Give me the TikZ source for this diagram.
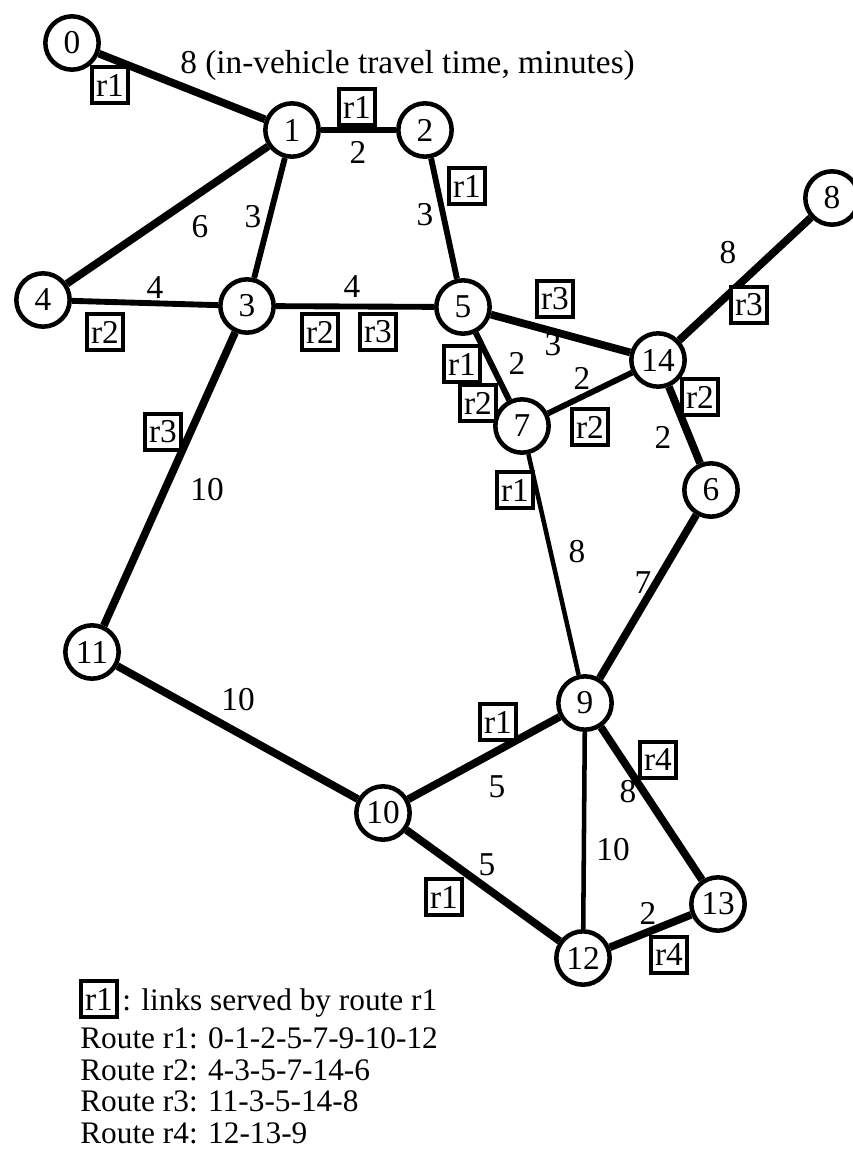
\documentclass[tikz,border=0pt]{standalone}
\usepackage{fontspec}
\setmainfont{Liberation Serif}
\begin{document}
\begin{tikzpicture}[x=0.75pt,y=-0.75pt,
  every node/.style={font=\fontsize{25}{29}\selectfont},
  stop/.style={circle,draw,line width=3.4pt,minimum size=40pt,inner sep=0pt,fill=white},
  route/.style={draw,line width=3.4pt,fill=white,minimum width=27pt,minimum height=27pt,inner sep=0.5pt},
  wt/.style={inner sep=0pt},
  keyline/.style={inner sep=0pt,anchor=base west,font=\fontsize{23.5}{26}\selectfont},
  heavy/.style={line width=5.8pt},
  medium/.style={line width=4.4pt},
  light/.style={line width=3.4pt}]
\useasboundingbox (0,0) rectangle (853,1150);

% stops
\node[stop] (n0) at (72,43) {0};
\node[stop] (n1) at (292,130) {1};
\node[stop] (n2) at (425,130) {2};
\node[stop] (n3) at (247,306) {3};
\node[stop] (n4) at (43,300) {4};
\node[stop] (n5) at (463,307) {5};
\node[stop] (n14) at (658,360) {14};
\node[stop] (n7) at (522,426) {7};
\node[stop] (n6) at (711,490) {6};
\node[stop] (n8) at (832,198) {8};
\node[stop] (n11) at (92,652) {11};
\node[stop] (n9) at (585,703) {9};
\node[stop] (n10) at (383,813) {10};
\node[stop] (n13) at (718,904) {13};
\node[stop] (n12) at (583,958) {12};

% links
\draw[heavy] (n0) -- (n1);
\draw[heavy] (n1) -- (n4);
\draw[medium] (n1) -- (n2);
\draw[medium] (n1) -- (n3);
\draw[medium] (n2) -- (n5);
\draw[medium] (n4) -- (n3);
\draw[medium] (n3) -- (n5);
\draw[heavy] (n3) -- (n11);
\draw[heavy] (n5) -- (n14);
\draw[medium] (n5) -- (n7);
\draw[medium] (n7) -- (n14);
\draw[heavy] (n14) -- (n8);
\draw[heavy] (n14) -- (n6);
\draw[light] (n7) -- (n9);
\draw[heavy] (n6) -- (n9);
\draw[heavy] (n11) -- (n10);
\draw[heavy] (n10) -- (n9);
\draw[heavy] (n10) -- (n12);
\draw[light] (n9) -- (n12);
\draw[heavy] (n9) -- (n13);
\draw[heavy] (n12) -- (n13);

% travel times
\node[wt,anchor=base west] (title) at (180,73) {8 (in-vehicle travel time, minutes)};
\node[wt] (w12) at (358,152) {2};
\node[wt] (w13) at (253,217) {3};
\node[wt] (w14) at (200,227) {6};
\node[wt] (w25) at (425,215) {3};
\node[wt] (w43) at (155,288) {4};
\node[wt] (w35) at (352,287) {4};
\node[wt] (w514) at (553,345) {3};
\node[wt] (w57) at (517,363) {2};
\node[wt] (w714) at (582,378) {2};
\node[wt] (w146) at (663,437) {2};
\node[wt] (w148) at (728,253) {8};
\node[wt] (w311) at (207,490) {10};
\node[wt] (w79) at (577,552) {8};
\node[wt] (w69) at (643,583) {7};
\node[wt] (w1110) at (238,700) {10};
\node[wt] (w109) at (497,787) {5};
\node[wt] (w913) at (628,792) {8};
\node[wt] (w912) at (613,850) {10};
\node[wt] (w1012) at (487,865) {5};
\node[wt] (w1213) at (648,913) {2};

% route tags
\node[route] (t01) at (110,85) {r1};
\node[route] (t12) at (357,107) {r1};
\node[route] (t25) at (467,186) {r1};
\node[route] (t43) at (105,332) {r2};
\node[route] (t35a) at (320,332) {r2};
\node[route] (t35b) at (378,332) {r3};
\node[route] (t514) at (555,299) {r3};
\node[route] (t148) at (749,305) {r3};
\node[route] (t57a) at (462,364) {r1};
\node[route] (t57b) at (478,403) {r2};
\node[route] (t714) at (590,427) {r2};
\node[route] (t146) at (700,397) {r2};
\node[route] (t79) at (515,490) {r1};
\node[route] (t311) at (163,432) {r3};
\node[route] (t109) at (498,722) {r1};
\node[route] (t913) at (658,760) {r4};
\node[route] (t1012) at (444,897) {r1};
\node[route] (t1213) at (669,955) {r4};

% legend
\node[route] (key) at (99,999) {r1};
\node[keyline] (keytext) at (122,1010) {: links served by route r1};
\node[keyline] (rt1) at (80,1048) {Route r1: 0-1-2-5-7-9-10-12};
\node[keyline] (rt2) at (80,1080) {Route r2: 4-3-5-7-14-6};
\node[keyline] (rt3) at (80,1111) {Route r3: 11-3-5-14-8};
\node[keyline] (rt4) at (80,1143) {Route r4: 12-13-9};
\end{tikzpicture}
\end{document}
